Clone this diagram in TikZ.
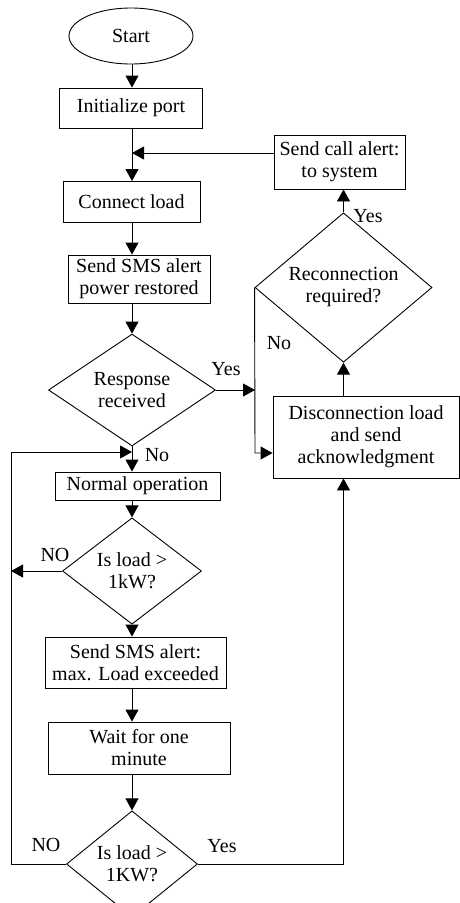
\documentclass[tikz,border=0pt]{standalone}
\usepackage{fontspec}
\setmainfont{Liberation Serif}
\usetikzlibrary{arrows.meta,shapes.geometric}
\begin{document}
\begin{tikzpicture}[x=1pt,y=1pt,
  every node/.style={font=\fontsize{20}{22}\selectfont},
  box/.style={draw,rectangle,align=center,inner sep=0pt,line width=0.9pt},
  dec/.style={draw,diamond,align=center,inner sep=0pt,line width=0.9pt},
  term/.style={draw,ellipse,inner sep=0pt,line width=0.9pt},
  arr/.style={line width=0.9pt,-{Triangle[length=12pt,width=13pt]}},
  lbl/.style={inner sep=0pt}]
\useasboundingbox (0,0) rectangle (460,-903);
% nodes
\node[term,minimum width=124,minimum height=56] (start) at (131,-36) {Start};
\node[box,minimum width=143,minimum height=40] (init) at (131,-108) {Initialize port};
\node[box,minimum width=137,minimum height=41] (conn) at (131.5,-202) {Connect load};
\node[box,minimum width=142,minimum height=48] (sms1) at (139,-279) {Send SMS alert\\power restored};
\node[dec,minimum width=167,minimum height=105] (resp) at (132,-390) {Response\\received};
\node[box,minimum width=165,minimum height=28] (norm) at (137.5,-486) {Normal operation};
\node[dec,minimum width=139,minimum height=86] (load1) at (132,-571) {Is load >\\1kW?};
\node[box,minimum width=181,minimum height=51] (sms2) at (135.5,-662.5) {Send SMS alert:\\max. Load exceeded};
\node[box,minimum width=182,minimum height=52] (wait) at (139,-748) {Wait for one\\minute};
\node[dec,minimum width=131,minimum height=86] (load2) at (132,-864) {Is load >\\1KW?};
\node[box,minimum width=131,minimum height=54] (call) at (339.5,-162) {Send call alert:\\to system};
\node[dec,minimum width=177,minimum height=111] (recon) at (343.5,-287.5) {Reconnection\\required?};
\node[box,minimum width=186,minimum height=82] (disc) at (366,-437) {Disconnection load\\and send\\acknowledgment};
% helper coordinates
\coordinate (ax) at (132,0);
\coordinate (vx) at (255,0);
\coordinate (lx) at (11,0);
\coordinate (j1) at (132,-153);
\coordinate (j2) at (255,-453);
\coordinate (j3) at (132,-452);
% connectors
\draw[arr] (start.south -| ax) -- (init.north -| ax);
\draw[arr] (init.south -| ax) -- (conn.north -| ax);
\draw[arr] (call.west |- j1) -- (j1);
\draw[arr] (conn.south -| ax) -- (sms1.north -| ax);
\draw[arr] (sms1.south -| ax) -- (resp.north);
\draw[arr] (resp.east) -- (resp.east -| vx);
\draw[arr] (recon.west) -- (j2) -- (disc.west |- j2);
\draw[arr] (disc.north -| recon) -- (recon.south);
\draw[arr] (recon.north) -- (call.south -| recon);
\draw[arr] (resp.south) -- (norm.north -| ax);
\draw[arr] (norm.south -| ax) -- (load1.north);
\draw[arr] (load1.west) -- (load1.west -| lx);
\draw[arr] (load1.south) -- (sms2.north -| ax);
\draw[arr] (sms2.south -| ax) -- (wait.north -| ax);
\draw[arr] (wait.south -| ax) -- (load2.north);
\draw[arr] (load2.west) -| (lx |- j3) -- (j3);
\draw[arr] (load2.east) -| (disc.south -| recon);
% labels
\node[lbl] (lyes1) at (226,-369) {Yes};
\node[lbl] (lno1) at (279,-343) {No};
\node[lbl] (lyes2) at (368,-216) {Yes};
\node[lbl] (lno2) at (157,-455) {No};
\node[lbl] (lno3) at (55,-555) {NO};
\node[lbl] (lno4) at (46,-845) {NO};
\node[lbl] (lyes3) at (222,-846) {Yes};
\end{tikzpicture}
\end{document}
